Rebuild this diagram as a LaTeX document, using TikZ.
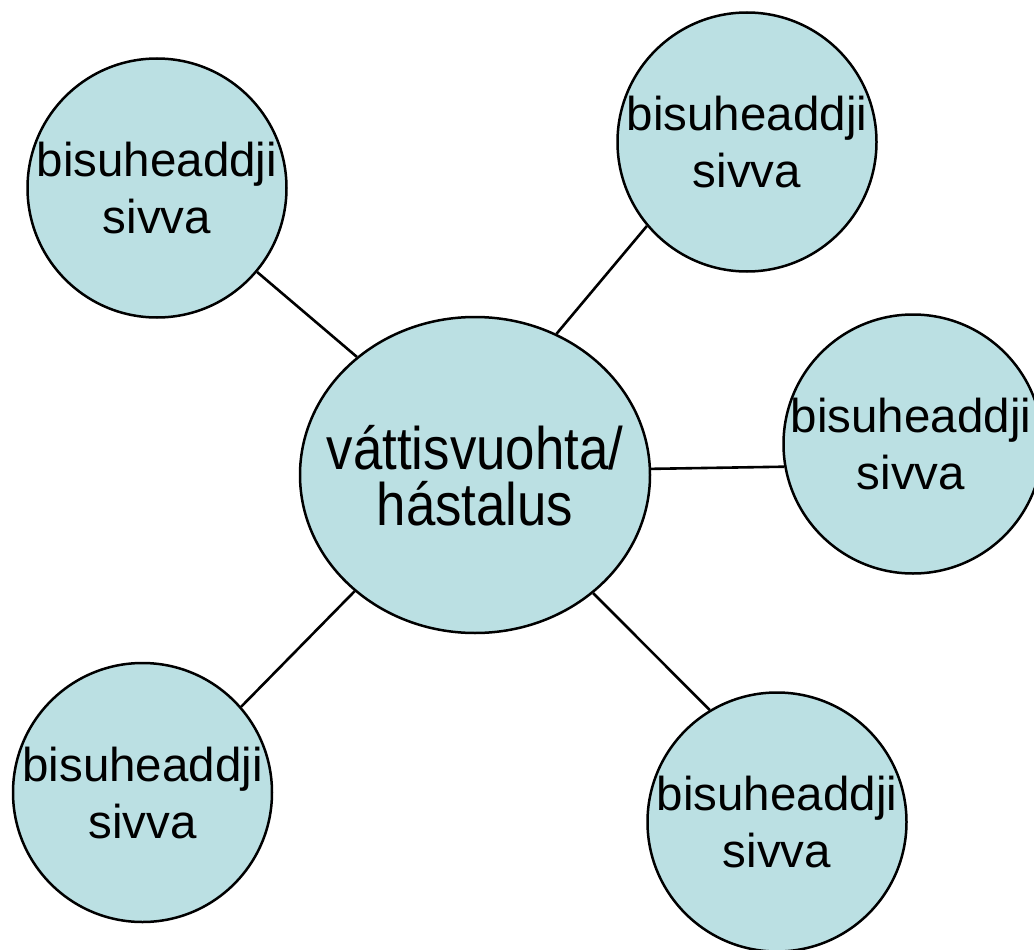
\documentclass[tikz,border=0pt]{standalone}
\usepackage{fontspec}
\setmainfont{Liberation Sans}
\newfontfamily\hubfont[FakeStretch=0.88]{Liberation Sans}
\usetikzlibrary{shapes.geometric}
\definecolor{bubfill}{RGB}{187,224,227}
\begin{document}
\begin{tikzpicture}[x=1pt,y=-1pt,
  bub/.style={circle,draw=black,fill=bubfill,line width=2.5pt,minimum size=259pt,inner sep=0pt},
  hub/.style={ellipse,draw=black,fill=bubfill,line width=2.5pt,minimum width=350pt,minimum height=316pt,inner sep=0pt},
  btxt/.style={align=center,font=\fontsize{47.5}{57}\selectfont,inner sep=0pt},
  htxt/.style={align=center,font=\hubfont\fontsize{60}{56}\selectfont,inner sep=0pt},
  link/.style={draw=black,line width=2.6pt}]
\useasboundingbox (0,0) rectangle (1034,950);
\clip (0,0) rectangle (1034,950);

\node[hub] (hub) at (475,475) {};
\node[htxt] (hubtext) at (475,476) {váttisvuohta/\\hástalus};

\node[bub] (tl) at (157,188) {};
\node[btxt] (tltext) at (157,188.5) {bisuheaddji\\sivva};

\node[bub] (tr) at (747,142) {};
\node[btxt] (trtext) at (747,142) {bisuheaddji\\sivva};

\node[bub] (rt) at (913,444) {};
\node[btxt] (rttext) at (911,444) {bisuheaddji\\sivva};

\node[bub] (bl) at (142.5,792.5) {};
\node[btxt] (bltext) at (142.5,793) {bisuheaddji\\sivva};

\node[bub] (br) at (777,822) {};
\node[btxt] (brtext) at (777,822) {bisuheaddji\\sivva};

\draw[link] (tl.-40) -- (hub.135);
\draw[link] (tr.220) -- (hub.60);
\draw[link] (hub.2.6) -- (rt.190.2);
\draw[link] (hub.224.8) -- (bl.41);
\draw[link] (hub.-45) -- (br.121);
\end{tikzpicture}
\end{document}
